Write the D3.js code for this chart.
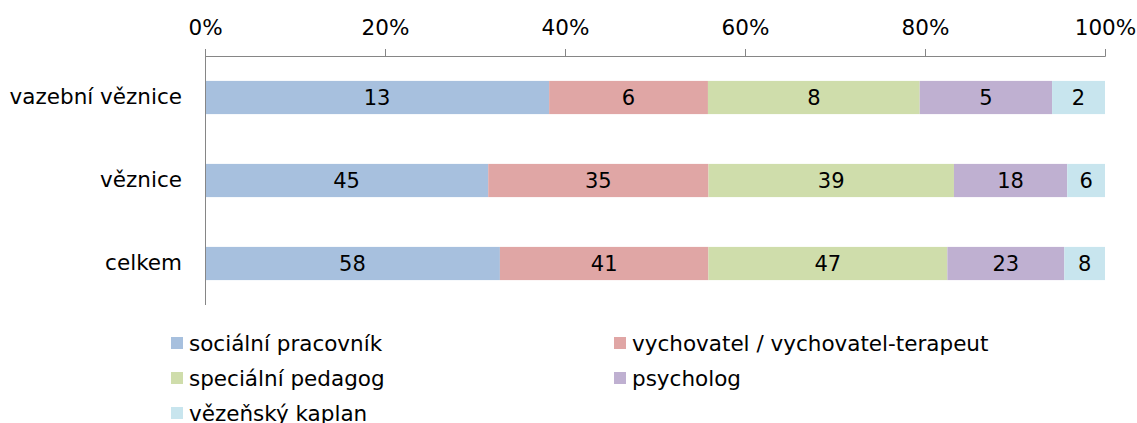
<!DOCTYPE html>
<html lang="cs">
<head>
	<meta charset="UTF-8">
	<script src="https://cdnjs.cloudflare.com/ajax/libs/d3/7.8.5/d3.min.js"></script>
	<title>Zaměstnanci</title>
	<style>
		body { margin: 0; background: white; }
		svg { display: block; font-family: "DejaVu Sans", Verdana, sans-serif; }
	</style>
</head>
<body>
	<div id="chart"></div>
	<script>
		/*----------------------- data -----------------------*/
		const categories = ["vazební věznice", "věznice", "celkem"];
		const seriesNames = ["sociální pracovník", "vychovatel / vychovatel-terapeut",
			"speciální pedagog", "psycholog", "vězeňský kaplan"];
		const seriesValues = [
			[13, 45, 58],
			[6, 35, 41],
			[8, 39, 47],
			[5, 18, 23],
			[2, 6, 8]
		];
		const tickValues = [0, 0.2, 0.4, 0.6, 0.8, 1];
		const colors = ["#a7c0de", "#e0a6a5", "#cfddab", "#bfb0d1", "#c8e5ee"];

		/*----------------------- layout ---------------------*/
		const width = 1137, height = 423;
		const plot = { left: 205, right: 1105, top: 56, bottom: 305 };
		const fontFamily = "\"DejaVu Sans\", Verdana, sans-serif";

		const rows = categories.map((c, i) => {
			const r = { cat: c };
			seriesNames.forEach((s, j) => r[s] = seriesValues[j][i]);
			return r;
		});
		const stacked = d3.stack().keys(seriesNames).offset(d3.stackOffsetExpand)(rows);

		const x = d3.scaleLinear().domain([0, 1]).range([plot.left, plot.right]);
		const y = d3.scaleBand().domain(categories)
			.range([plot.top, plot.bottom]).paddingInner(0.6).paddingOuter(0.3);

		const svg = d3.select("#chart").append("svg")
			.attr("width", width).attr("height", height);

		// bars
		const layer = svg.selectAll("g.layer").data(stacked).enter().append("g")
			.attr("fill", (d, i) => colors[i]);
		layer.selectAll("rect").data(d => d).enter().append("rect")
			.attr("x", d => x(d[0]))
			.attr("width", d => x(d[1]) - x(d[0]))
			.attr("y", d => y(d.data.cat))
			.attr("height", y.bandwidth());

		// value labels
		stacked.forEach(s => {
			svg.append("g").selectAll("text").data(s).enter().append("text")
				.attr("x", d => (x(d[0]) + x(d[1])) / 2)
				.attr("y", d => y(d.data.cat) + y.bandwidth() / 2)
				.attr("dy", "0.36em")
				.attr("text-anchor", "middle")
				.attr("font-size", 21)
				.attr("fill", "#000")
				.text(d => d.data[s.key]);
		});

		// top axis
		const xAxis = svg.append("g")
			.attr("transform", `translate(0,${plot.top})`)
			.call(d3.axisTop(x).tickValues(tickValues).tickFormat(d3.format(".0%"))
				.tickSize(7).tickSizeOuter(7).tickPadding(14));
		xAxis.select(".domain").attr("stroke", "#868686");
		xAxis.selectAll(".tick line").attr("stroke", "#868686");
		xAxis.selectAll(".tick text").attr("font-size", 21.5).attr("fill", "#000")
			.attr("font-family", fontFamily);

		// left axis
		const yAxis = svg.append("g")
			.attr("transform", `translate(${plot.left},0)`)
			.call(d3.axisLeft(y).tickSize(0).tickPadding(23));
		yAxis.select(".domain").attr("stroke", "#868686")
			.attr("d", `M0.5,${plot.top}V${plot.bottom}`);
		yAxis.selectAll(".tick text").attr("font-size", 21.5).attr("fill", "#000")
			.attr("font-family", fontFamily);

		// legend
		const legend = svg.append("g");
		const item = legend.selectAll("g").data(seriesNames).enter().append("g")
			.attr("transform", (d, i) => `translate(${i % 2 ? 614 : 171},${337 + Math.floor(i / 2) * 35})`);
		item.append("rect").attr("width", 12).attr("height", 12)
			.attr("fill", (d, i) => colors[i]);
		item.append("text").attr("x", 18).attr("y", 6).attr("dy", "0.36em")
			.attr("font-size", 21.5).attr("fill", "#000").text(d => d);
	</script>
</body>
</html>
